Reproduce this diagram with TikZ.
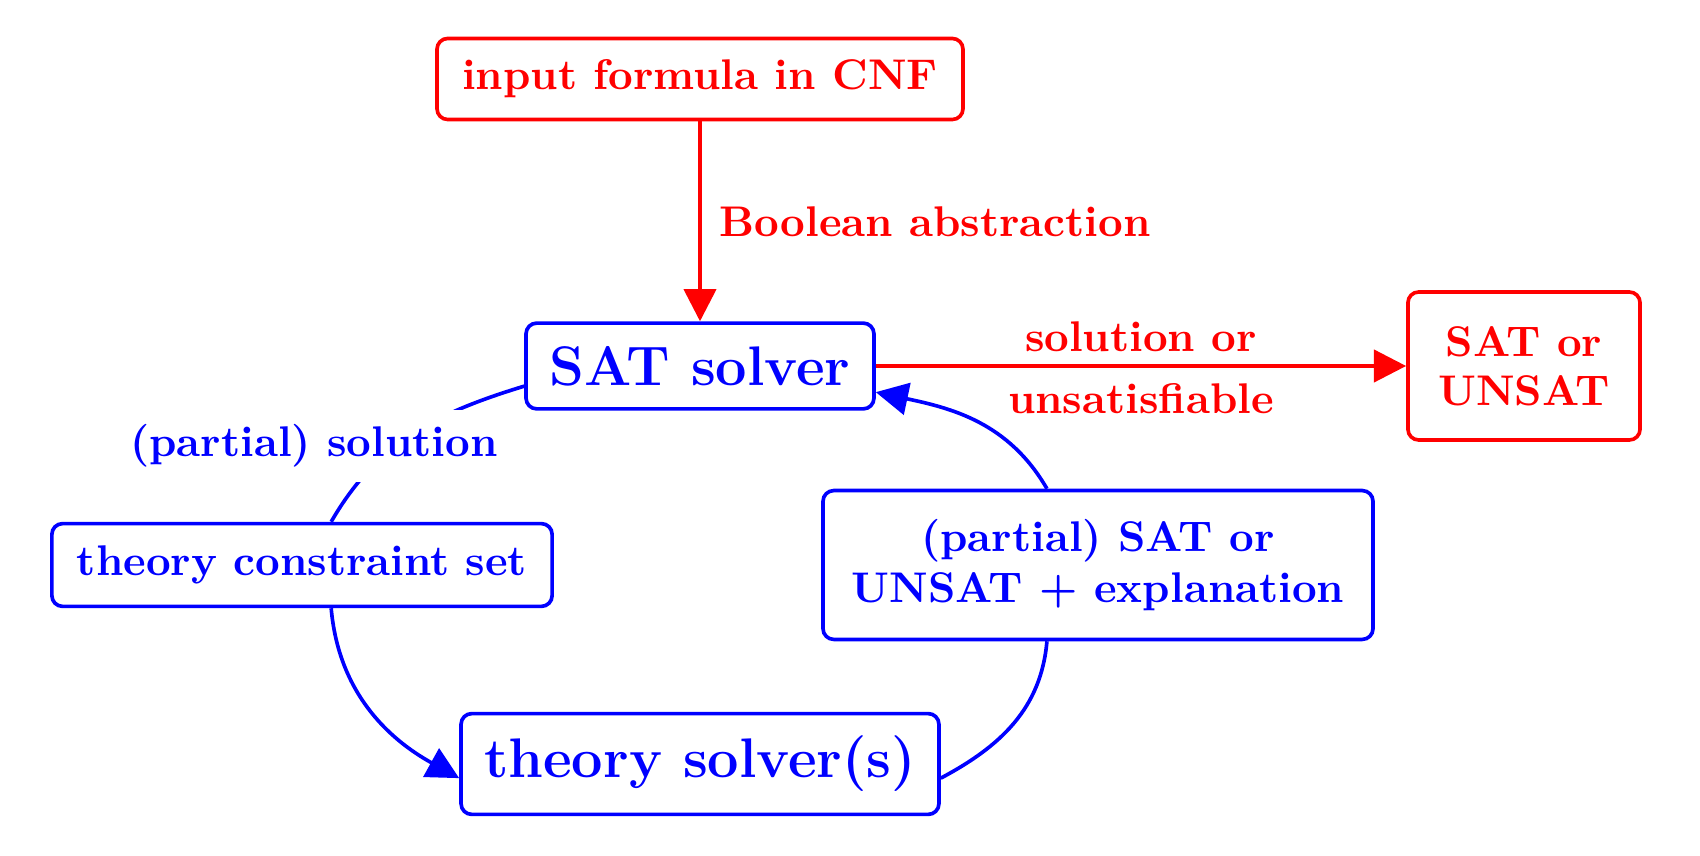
\documentclass[tikz,border=0pt]{standalone}
\usetikzlibrary{arrows.meta}
\begin{document}
\begin{tikzpicture}[x=0.2331pt,y=-0.2331pt,
  box/.style={draw, rounded corners=2.5pt, line width=0.85pt, inner sep=0pt, align=center, font=\fontsize{10}{12}\selectfont\bfseries},
  redbox/.style={box, draw=red, text=red},
  bluebox/.style={box, draw=blue, text=blue},
  bigfont/.style={font=\fontsize{13}{15.5}\selectfont\bfseries},
  conn/.style={line width=0.85pt},
  arr/.style={conn, -{Triangle[length=7.5pt,width=7.5pt]}},
  lbl/.style={font=\fontsize{10}{12}\selectfont\bfseries}]
\useasboundingbox (0,0) rectangle (1700,856);
\node[redbox, minimum width=122.6pt, minimum height=18.9pt] (input) at (700,79) {input formula in CNF};
\node[bluebox, bigfont, minimum width=81.1pt, minimum height=20pt] (sat) at (700,366) {SAT solver};
\node[redbox, font=\fontsize{10}{11.4}\selectfont\bfseries, minimum width=54.1pt, minimum height=34.5pt] (res) at (1524,366) {SAT or\\UNSAT};
\node[bluebox, minimum width=116.6pt, minimum height=19.3pt] (tcs) at (302,565) {theory constraint set};
\node[bluebox, minimum width=128.2pt, minimum height=34.7pt] (expl) at (1098,565) {(partial) SAT or\\UNSAT + explanation};
\node[bluebox, bigfont, minimum width=111.4pt, minimum height=23.5pt] (ts) at (700,764) {theory solver(s)};

\draw[arr, red] (input) -- (sat) node[midway, right=0.8pt, lbl, text=red] {Boolean abstraction};
\draw[arr, red] (sat) -- (res)
  node[midway, yshift=6.8pt, lbl, text=red] {solution or}
  node[midway, yshift=-7.6pt, lbl, text=red] {unsatisfiable};

\draw[conn, blue] ([yshift=-4.7pt]sat.west) to[out=197, in=60] ([xshift=6.8pt]tcs.north);
\node[lbl, text=blue, fill=white] (plab) at (314,446) {(partial) solution};
\draw[arr, blue] ([xshift=6.8pt]tcs.south) to[out=-85, in=151] ([yshift=-3.3pt]ts.west);
\draw[conn, blue] ([yshift=-3.3pt]ts.east) to[out=28, in=-95] ([xshift=-11.9pt]expl.south);
\draw[arr, blue] ([xshift=-11.9pt]expl.north) to[out=120, in=-12] ([yshift=-6.1pt]sat.east);
\end{tikzpicture}
\end{document}
